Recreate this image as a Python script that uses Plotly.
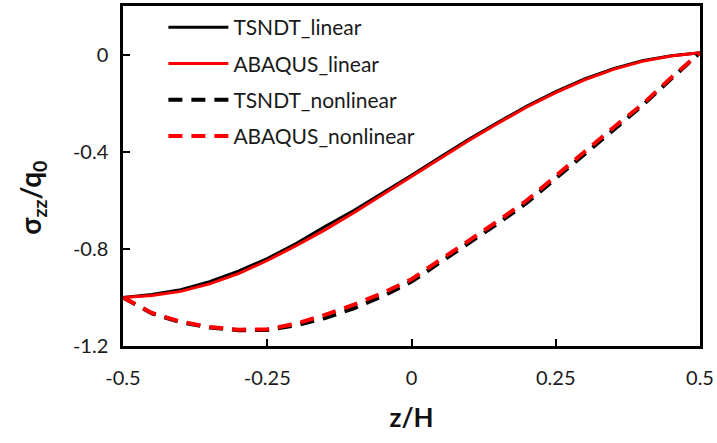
import plotly.graph_objects as go

z = [-0.5, -0.45, -0.4, -0.35, -0.3, -0.25, -0.2, -0.15, -0.1, -0.05, 0.0,
     0.05, 0.1, 0.15, 0.2, 0.25, 0.3, 0.35, 0.4, 0.45, 0.5]

tsndt_linear = [-1.0, -0.988, -0.968, -0.935, -0.892, -0.84, -0.778, -0.708, -0.642, -0.57, -0.497,
                -0.422, -0.348, -0.279, -0.212, -0.153, -0.1, -0.058, -0.025, -0.005, 0.008]
abaqus_linear = [-1.0, -0.992, -0.975, -0.944, -0.902, -0.848, -0.787, -0.722, -0.651, -0.577, -0.502,
                 -0.427, -0.353, -0.283, -0.216, -0.157, -0.104, -0.061, -0.028, -0.006, 0.008]
tsndt_nonlinear = [-1.0, -1.066, -1.102, -1.124, -1.135, -1.134, -1.115, -1.085, -1.045, -0.995, -0.935,
                   -0.855, -0.772, -0.695, -0.61, -0.51, -0.405, -0.308, -0.21, -0.1, 0.008]
abaqus_nonlinear = [-1.0, -1.064, -1.1, -1.122, -1.133, -1.131, -1.108, -1.072, -1.03, -0.982, -0.925,
                    -0.845, -0.762, -0.685, -0.6, -0.5, -0.397, -0.3, -0.205, -0.095, 0.008]

x_ticks = [-0.5, -0.25, 0, 0.25, 0.5]
x_tick_labels = ["-0.5", "-0.25", "0", "0.25", "0.5"]
y_ticks = [0, -0.4, -0.8, -1.2]
y_tick_labels = ["0", "-0.4", "-0.8", "-1.2"]

FONT = "Lato"

fig = go.Figure()
fig.add_trace(go.Scatter(x=z, y=tsndt_linear, mode="lines", name="TSNDT_linear",
                         line=dict(color="black", width=3), legendgroup="a"))
fig.add_trace(go.Scatter(x=z, y=abaqus_linear, mode="lines", name="ABAQUS_linear",
                         line=dict(color="#ff0000", width=3), legendgroup="b"))
fig.add_trace(go.Scatter(x=z, y=tsndt_nonlinear, mode="lines", name="TSNDT_nonlinear",
                         line=dict(color="black", width=4, dash="14px,9px"), legendgroup="c"))
fig.add_trace(go.Scatter(x=z, y=abaqus_nonlinear, mode="lines", name="ABAQUS_nonlinear",
                         line=dict(color="#ff0000", width=4, dash="14px,9px"), legendgroup="d"))

fig.update_layout(
    width=717, height=443,
    margin=dict(l=123, r=16, t=3, b=97),
    paper_bgcolor="white", plot_bgcolor="white",
    font=dict(family=FONT, size=20, color="#1a1a1a"),
    showlegend=True,
    legend=dict(x=0.07, y=0.997, xanchor="left", yanchor="top",
                bgcolor="rgba(0,0,0,0)", font=dict(size=21, family=FONT, color="#1a1a1a"),
                tracegroupgap=6, itemwidth=60),
    xaxis=dict(range=[-0.5, 0.5], tickvals=x_ticks, ticktext=x_tick_labels,
               showgrid=False, zeroline=False, showline=True, linecolor="black", linewidth=2.5,
               mirror=True, ticks="inside", ticklen=7, tickwidth=2, tickcolor="black",
               ticklabelstandoff=12,
               tickfont=dict(size=20, family=FONT, color="#1a1a1a"),
               title=dict(text="<b>z/H</b>", font=dict(size=26, family=FONT, color="#111"), standoff=22)),
    yaxis=dict(range=[-1.2, 0.2], tickvals=y_ticks, ticktext=y_tick_labels,
               showgrid=False, zeroline=False, showline=True, linecolor="black", linewidth=2.5,
               mirror=True, ticks="inside", ticklen=7, tickwidth=2, tickcolor="black",
               ticklabelstandoff=8,
               tickfont=dict(size=20, family=FONT, color="#1a1a1a"),
               title=dict(text="")),
    annotations=[dict(text="<b>σ<sub>zz</sub>/q<sub>0</sub></b>", xref="paper", yref="paper",
                      x=-0.157, y=0.437, xanchor="center", yanchor="middle", textangle=-90,
                      showarrow=False, font=dict(size=28, family=FONT, color="#111"))],
)

fig.write_html("out.html")
